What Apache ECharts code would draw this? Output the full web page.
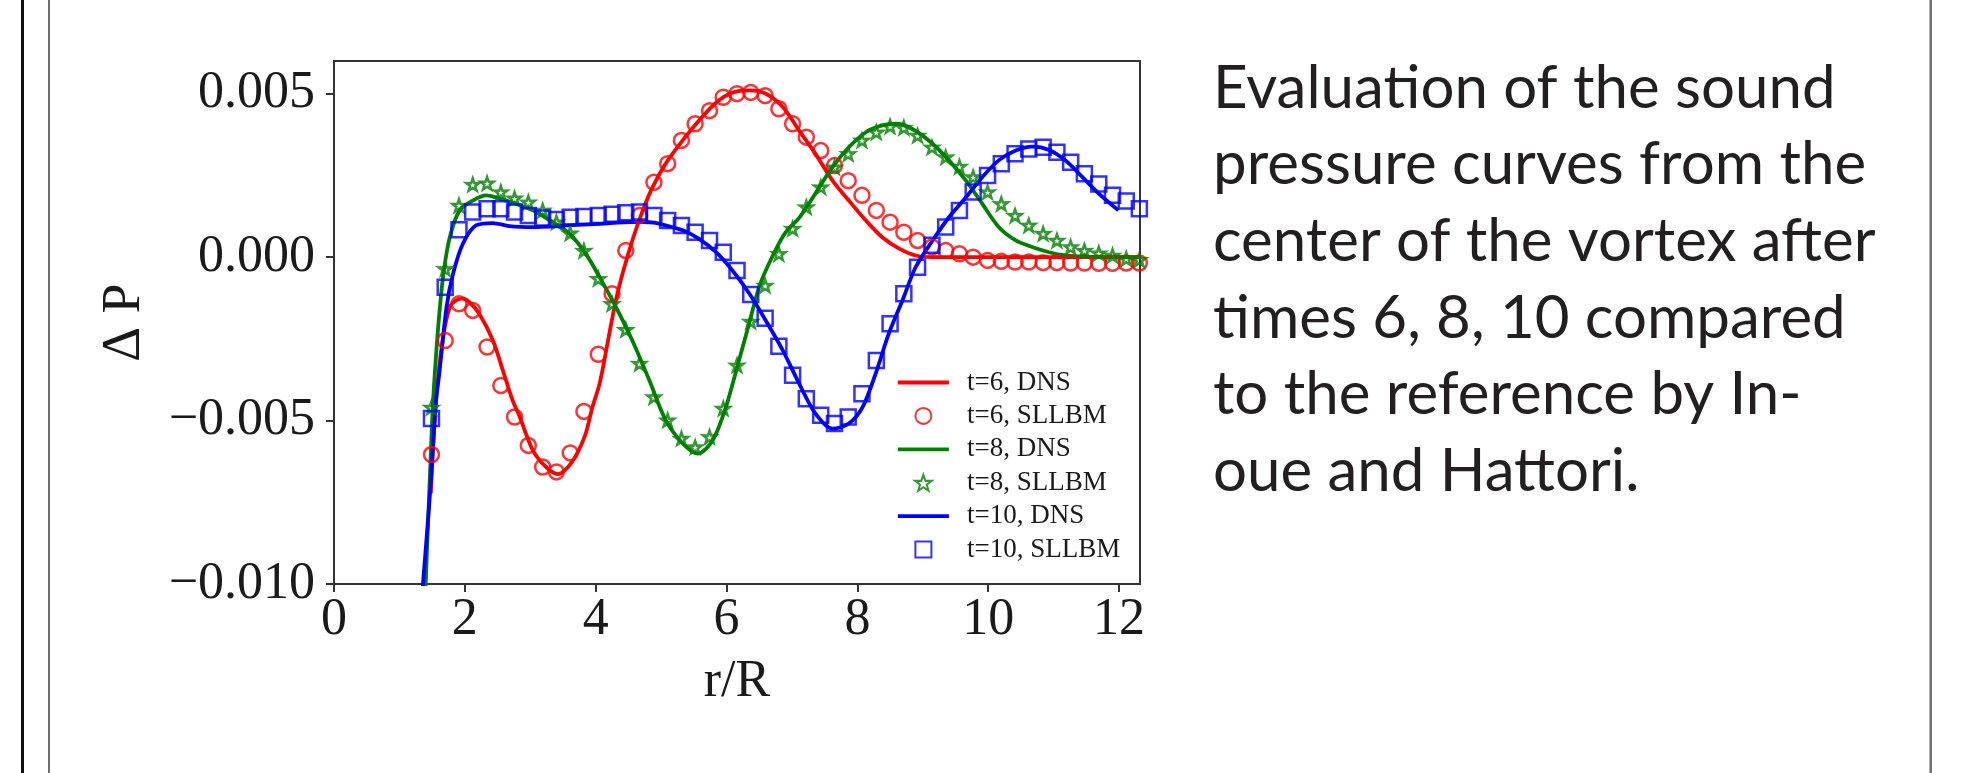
<!DOCTYPE html>
<html>
<head>
<meta charset="utf-8">
<script src="https://cdn.jsdelivr.net/npm/echarts@6/dist/echarts.min.js"></script>
<style>
  html, body { margin: 0; padding: 0; background: #ffffff; }
  #chart { width: 1966px; height: 773px; }
</style>
</head>
<body>
<div id="chart"></div>
<script>
// Radial sample positions r/R shared by the SLLBM runs
const rSllbm = [1.49, 1.70, 1.91, 2.12, 2.34, 2.55, 2.76, 2.97, 3.19, 3.40, 3.61, 3.82, 4.04, 4.25, 4.46,
  4.67, 4.89, 5.10, 5.31, 5.52, 5.74, 5.95, 6.16, 6.37, 6.59, 6.80, 7.01, 7.22, 7.44, 7.65, 7.86, 8.07,
  8.29, 8.50, 8.71, 8.92, 9.14, 9.35, 9.56, 9.77, 9.99, 10.20, 10.41, 10.62, 10.84, 11.05, 11.26, 11.47,
  11.69, 11.90, 12.11, 12.31];

// SLLBM pressure deviation at t = 6, 8, 10
const p6Sllbm = [-0.00604, -0.00255, -0.00143, -0.00163, -0.00275, -0.00393, -0.00489, -0.00576, -0.00642,
  -0.00657, -0.00599, -0.00472, -0.00297, -0.00112, 0.00020, 0.00127, 0.00229, 0.00286, 0.00357, 0.00408,
  0.00448, 0.00489, 0.00500, 0.00504, 0.00494, 0.00454, 0.00408, 0.00367, 0.00326, 0.00280, 0.00234,
  0.00189, 0.00143, 0.00107, 0.00076, 0.00051, 0.00031, 0.00020, 0.00010, 0.00000, -0.00010, -0.00013,
  -0.00015, -0.00015, -0.00017, -0.00017, -0.00018, -0.00018, -0.00019, -0.00019, -0.00018, -0.00018];
const p8Sllbm = [-0.00460, -0.00036, 0.00158, 0.00222, 0.00226, 0.00199, 0.00180, 0.00168, 0.00143, 0.00107,
  0.00073, 0.00020, -0.00066, -0.00143, -0.00222, -0.00326, -0.00428, -0.00499, -0.00555, -0.00581,
  -0.00550, -0.00463, -0.00331, -0.00197, -0.00087, 0.00010, 0.00087, 0.00153, 0.00214, 0.00275, 0.00316,
  0.00357, 0.00382, 0.00400, 0.00396, 0.00372, 0.00336, 0.00306, 0.00277, 0.00245, 0.00199, 0.00163,
  0.00127, 0.00097, 0.00072, 0.00051, 0.00031, 0.00020, 0.00012, 0.00005, -0.00005, -0.00008];
const p10Sllbm = [-0.00494, -0.00092, 0.00084, 0.00138, 0.00148, 0.00148, 0.00138, 0.00127, 0.00120, 0.00115,
  0.00122, 0.00124, 0.00127, 0.00131, 0.00136, 0.00138, 0.00127, 0.00112, 0.00097, 0.00076, 0.00051,
  0.00015, -0.00041, -0.00114, -0.00187, -0.00273, -0.00361, -0.00433, -0.00484, -0.00509, -0.00489,
  -0.00418, -0.00316, -0.00204, -0.00112, -0.00031, 0.00036, 0.00092, 0.00143, 0.00199, 0.00250, 0.00286,
  0.00316, 0.00331, 0.00336, 0.00321, 0.00290, 0.00255, 0.00224, 0.00189, 0.00172, 0.00148];

// DNS reference curves (Inoue and Hattori)
const r6Dns = [1.48, 1.56, 1.66, 1.77, 1.87, 1.97, 2.07, 2.22, 2.43, 2.58, 2.73, 2.84, 3.04, 3.24, 3.42,
  3.62, 3.83, 3.95, 4.06, 4.18, 4.30, 4.41, 4.56, 4.72, 4.87, 5.07, 5.33, 5.58, 5.86, 6.09, 6.35, 6.60,
  6.86, 7.11, 7.36, 7.62, 7.87, 8.13, 8.38, 8.64, 8.89, 9.15, 9.60, 10.50, 11.50, 12.32];
const p6Dns = [-0.00723, -0.00438, -0.00255, -0.00153, -0.00132, -0.00127, -0.00138, -0.00173, -0.00255,
  -0.00346, -0.00438, -0.00489, -0.00591, -0.00642, -0.00664, -0.00632, -0.00550, -0.00459, -0.00387,
  -0.00265, -0.00140, -0.00051, 0.00051, 0.00143, 0.00214, 0.00286, 0.00357, 0.00418, 0.00476, 0.00503,
  0.00510, 0.00500, 0.00459, 0.00387, 0.00316, 0.00234, 0.00173, 0.00112, 0.00061, 0.00026, 0.00005,
  0.00000, 0.00000, 0.00000, 0.00000, 0.00000];

const r8Dns = [1.39, 1.43, 1.47, 1.51, 1.56, 1.62, 1.68, 1.77, 1.92, 2.12, 2.33, 2.53, 2.78, 3.04, 3.34,
  3.60, 3.85, 4.06, 4.31, 4.56, 4.82, 5.07, 5.33, 5.56, 5.79, 5.99, 6.19, 6.35, 6.50, 6.70, 6.90, 7.11,
  7.36, 7.62, 7.87, 8.13, 8.38, 8.59, 8.84, 9.15, 9.40, 9.66, 9.91, 10.16, 10.42, 10.67, 10.93, 11.18,
  11.44, 11.69, 12.32];
const p8Dns = [-0.01060, -0.00850, -0.00650, -0.00460, -0.00300, -0.00150, -0.00040, 0.00061, 0.00143,
  0.00173, 0.00189, 0.00179, 0.00163, 0.00143, 0.00107, 0.00072, 0.00010, -0.00061, -0.00153, -0.00255,
  -0.00377, -0.00499, -0.00570, -0.00601, -0.00560, -0.00459, -0.00316, -0.00200, -0.00090, 0.00002,
  0.00075, 0.00120, 0.00195, 0.00275, 0.00336, 0.00382, 0.00403, 0.00408, 0.00392, 0.00347, 0.00296,
  0.00234, 0.00163, 0.00092, 0.00051, 0.00031, 0.00015, 0.00005, 0.00002, 0.00000, 0.00000];

const r10Dns = [1.34, 1.36, 1.46, 1.56, 1.61, 1.72, 1.82, 1.97, 2.17, 2.43, 2.68, 3.04, 3.55, 4.06, 4.56,
  4.82, 5.07, 5.33, 5.58, 5.84, 6.09, 6.35, 6.60, 6.86, 7.11, 7.36, 7.62, 7.87, 8.08, 8.28, 8.48, 8.69,
  8.89, 9.15, 9.40, 9.66, 9.91, 10.16, 10.42, 10.67, 10.93, 11.18, 11.44, 11.69, 11.99];
const p10Dns = [-0.01060, -0.01000, -0.00744, -0.00438, -0.00356, -0.00153, -0.00051, 0.00041, 0.00097,
  0.00104, 0.00095, 0.00092, 0.00097, 0.00102, 0.00107, 0.00107, 0.00097, 0.00082, 0.00056, 0.00015,
  -0.00041, -0.00112, -0.00194, -0.00285, -0.00387, -0.00479, -0.00525, -0.00509, -0.00459, -0.00356,
  -0.00234, -0.00132, -0.00031, 0.00051, 0.00122, 0.00183, 0.00245, 0.00296, 0.00326, 0.00338, 0.00328,
  0.00296, 0.00245, 0.00194, 0.00143];

// Axis ticks
const rTicks = [0, 2, 4, 6, 8, 10, 12];
const pTicks = [-0.010, -0.005, 0.000, 0.005];

const seriesNames = ['t=6, DNS', 't=6, SLLBM', 't=8, DNS', 't=8, SLLBM', 't=10, DNS', 't=10, SLLBM'];

const captionLines = [
  'Evaluation of the sound',
  'pressure curves from the',
  'center of the vortex after',
  'times 6, 8, 10 compared',
  'to the reference by In-',
  'oue and Hattori.'
];

const zip = (xs, ys) => xs.map((x, i) => [x, ys[i]]);
const serif = 'Liberation Serif';
const ink = '#1a1a1a';
const LINE_W = 3.8;
const STAR = 'path://M50,0 L61.8,35.1 L97.6,34.5 L69.1,56.9 L79.4,91 L50,70.5 L20.6,91 L30.9,56.9 L2.4,34.5 L38.2,35.1 Z';
const SQUARE = 'path://M0,0 H10 V10 H0 Z';

function dnsSeries(name, color, data) {
  return {
    name, type: 'line', data, symbol: 'none', smooth: 0.3, clip: true,
    lineStyle: { color, width: LINE_W }, itemStyle: { color }, z: 2
  };
}
function sllbmSeries(name, color, symbol, size, data) {
  return {
    name, type: 'scatter', data, symbol, symbolSize: size, symbolKeepAspect: true, clip: true,
    itemStyle: { color: 'transparent', borderColor: color, borderWidth: 2.5 }, z: 2
  };
}

// Legend rows: DNS entries show only their line, SLLBM entries only their marker
const legendData = seriesNames.map(n => n.indexOf('DNS') > -1
  ? { name: n, itemStyle: { opacity: 0 } }
  : { name: n });

const chart = echarts.init(document.getElementById('chart'), null, { renderer: 'canvas' });

chart.setOption({
  animation: false,
  backgroundColor: '#ffffff',
  grid: {
    left: 334, top: 61, width: 806, height: 523,
    show: true, borderColor: '#333333', borderWidth: 2, backgroundColor: 'transparent',
    containLabel: false, outerBoundsMode: 'none'
  },
  xAxis: {
    type: 'value', min: 0, max: 12.32, interval: 2,
    name: 'r/R', nameLocation: 'middle', nameGap: 72,
    nameTextStyle: { fontFamily: serif, fontSize: 52, color: ink },
    axisLine: { show: false, onZero: false },
    splitLine: { show: false },
    axisTick: { show: true, inside: false, length: 8, lineStyle: { color: '#333333', width: 2 }, customValues: rTicks },
    axisLabel: { fontFamily: serif, fontSize: 52, color: ink, margin: 10, customValues: rTicks }
  },
  yAxis: {
    type: 'value', min: -0.010, max: 0.006, interval: 0.005,
    name: 'Δ P', nameLocation: 'middle', nameRotate: 90, nameGap: 182,
    nameTextStyle: { fontFamily: serif, fontSize: 54, color: ink },
    axisLine: { show: false, onZero: false },
    splitLine: { show: false },
    axisTick: { show: true, inside: false, length: 8, lineStyle: { color: '#333333', width: 2 }, customValues: pTicks },
    axisLabel: {
      fontFamily: serif, fontSize: 52, color: ink, margin: 19, customValues: pTicks,
      formatter: v => (v < -1e-9 ? '\u2212' : '') + Math.abs(v).toFixed(3)
    }
  },
  legend: {
    data: legendData,
    orient: 'vertical', left: 891, top: 364, align: 'left',
    itemWidth: 51, itemHeight: 16, itemGap: 6.4,
    selectedMode: false,
    lineStyle: { width: LINE_W },
    textStyle: { fontFamily: serif, fontSize: 27, color: ink, padding: [0, 0, 0, 13] }
  },
  series: [
    dnsSeries(seriesNames[0], '#ff0000', zip(r6Dns, p6Dns)),
    sllbmSeries(seriesNames[1], '#ff0000', 'circle', 15, zip(rSllbm, p6Sllbm)),
    dnsSeries(seriesNames[2], '#008000', zip(r8Dns, p8Dns)),
    sllbmSeries(seriesNames[3], '#008000', STAR, 13, zip(rSllbm, p8Sllbm)),
    dnsSeries(seriesNames[4], '#0000ff', zip(r10Dns, p10Dns)),
    sllbmSeries(seriesNames[5], '#0000ff', SQUARE, 15, zip(rSllbm, p10Sllbm))
  ],
  graphic: [
    { type: 'line', silent: true, shape: { x1: 22.5, y1: 0, x2: 22.5, y2: 773 }, style: { stroke: '#111111', lineWidth: 3 } },
    { type: 'line', silent: true, shape: { x1: 49, y1: 0, x2: 49, y2: 773 }, style: { stroke: '#6e6e6e', lineWidth: 2 } },
    { type: 'line', silent: true, shape: { x1: 1930.7, y1: 0, x2: 1930.7, y2: 773 }, style: { stroke: '#6e6e6e', lineWidth: 2.5 } },
    {
      type: 'text', silent: true, left: 1213, top: 50,
      style: { text: captionLines.join('\n'), fontFamily: 'Lato', fontSize: 60, lineHeight: 76.7, fill: '#231f20' }
    }
  ]
});
</script>
</body>
</html>
